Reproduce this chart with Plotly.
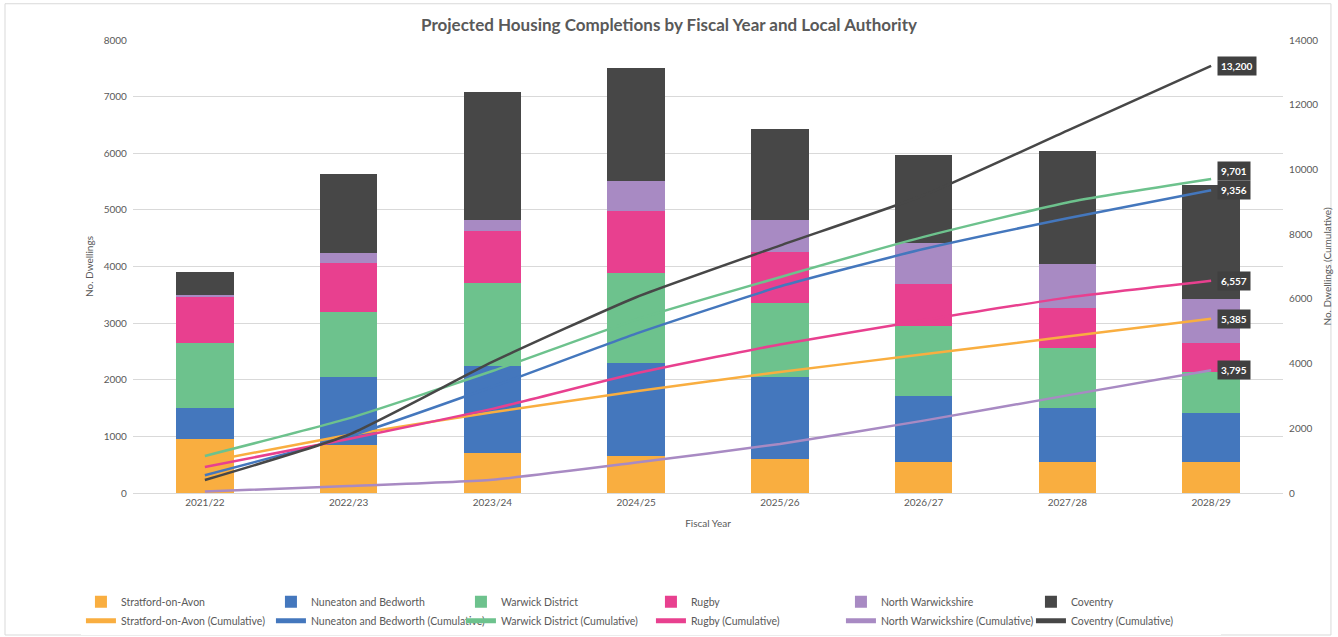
import plotly.graph_objects as go

years = ["2021/22", "2022/23", "2023/24", "2024/25", "2025/26", "2026/27", "2027/28", "2028/29"]

authorities = ["Stratford-on-Avon", "Nuneaton and Bedworth", "Warwick District",
               "Rugby", "North Warwickshire", "Coventry"]

stratford = [955, 840, 700, 650, 595, 545, 550, 550]
nuneaton = [550, 1200, 1535, 1640, 1455, 1160, 950, 866]
warwick = [1145, 1160, 1465, 1590, 1310, 1245, 1065, 721]
rugby = [805, 865, 930, 1100, 890, 748, 700, 519]
north_warks = [45, 170, 195, 530, 575, 722, 780, 778]
coventry = [400, 1400, 2250, 2000, 1595, 1556, 2000, 1999]

stratford_cum = [955, 1795, 2495, 3145, 3740, 4285, 4835, 5385]
nuneaton_cum = [550, 1750, 3285, 4925, 6380, 7540, 8490, 9356]
warwick_cum = [1145, 2305, 3770, 5360, 6670, 7915, 8980, 9701]
rugby_cum = [805, 1670, 2600, 3700, 4590, 5338, 6038, 6557]
north_warks_cum = [45, 215, 410, 940, 1515, 2237, 3017, 3795]
coventry_cum = [400, 1800, 4050, 6050, 7645, 9201, 11201, 13200]

colors = ["#F9AE40", "#4477BD", "#6DC28D", "#E8408F", "#A88AC3", "#474747"]

annual = [stratford, nuneaton, warwick, rugby, north_warks, coventry]
cumulative = [stratford_cum, nuneaton_cum, warwick_cum, rugby_cum, north_warks_cum, coventry_cum]
label_yshift = [0, 0, 8, 0, 0, 0]

FONT = "Lato"
GREY = "#595959"

fig = go.Figure()

for name, vals, col in zip(authorities, annual, colors):
    fig.add_trace(go.Bar(x=years, y=vals, name=name, marker=dict(color=col, line=dict(width=0)),
                         yaxis="y"))

for name, vals, col in zip(authorities, cumulative, colors):
    fig.add_trace(go.Scatter(x=years, y=vals, name=name + " (Cumulative)", mode="lines",
                             line=dict(color=col, width=2.5, shape="spline", smoothing=0.5),
                             yaxis="y2"))

annotations = []
for vals, ys in zip(cumulative, label_yshift):
    annotations.append(dict(
        x=years[-1], y=vals[-1], xref="x", yref="y2",
        text="<b>{:,}</b>".format(vals[-1]), showarrow=False,
        xanchor="left", yanchor="middle", xshift=6, yshift=ys,
        bgcolor="#404040", font=dict(family=FONT, size=10, color="white"),
        borderpad=3,
    ))

fig.update_layout(
    width=1338, height=637,
    margin=dict(l=133, r=55, t=40, b=144, autoexpand=False),
    paper_bgcolor="white", plot_bgcolor="white",
    barmode="stack", bargap=0.6,
    font=dict(family=FONT, size=10, color=GREY),
    title=dict(text="<b>Projected Housing Completions by Fiscal Year and Local Authority</b>",
               x=0.5, xanchor="center", y=0.96, yanchor="middle",
               font=dict(family=FONT, size=17, color=GREY)),
    xaxis=dict(title=dict(text="Fiscal Year", font=dict(size=10, color=GREY), standoff=12),
               showgrid=False, showline=True, linecolor="#D9D9D9", linewidth=1,
               ticks="", tickfont=dict(size=10, color=GREY), automargin=False),
    yaxis=dict(title=dict(text="No. Dwellings", font=dict(size=10, color=GREY), standoff=8),
               range=[0, 8000], dtick=1000, showgrid=True, gridcolor="#D9D9D9",
               zeroline=False, showline=False, ticks="", tickfont=dict(size=10, color=GREY),
               tickformat="d", ticksuffix="  ", automargin=False),
    yaxis2=dict(title=dict(text="No. Dwellings (Cumulative)", font=dict(size=10, color=GREY), standoff=6),
                range=[0, 14000], dtick=2000, overlaying="y", side="right",
                showgrid=False, zeroline=False, showline=False, ticks="",
                tickfont=dict(size=10, color=GREY), tickformat="d", tickprefix="  ",
                automargin=False),
    legend=dict(orientation="h", xref="container", yref="container",
                x=0.0605, xanchor="left", y=0.078, yanchor="top",
                entrywidth=145, entrywidthmode="pixels", traceorder="normal",
                font=dict(size=10.5, color=GREY), itemsizing="constant",
                tracegroupgap=0),
    annotations=annotations,
    shapes=[dict(type="rect", xref="paper", yref="paper",
                 x0=-0.1113, x1=1.0417, y0=-0.3135, y1=1.0800,
                 line=dict(color="#D9D9D9", width=1), fillcolor="rgba(0,0,0,0)", layer="below")],
    showlegend=True,
)

fig.write_html("out.html")
